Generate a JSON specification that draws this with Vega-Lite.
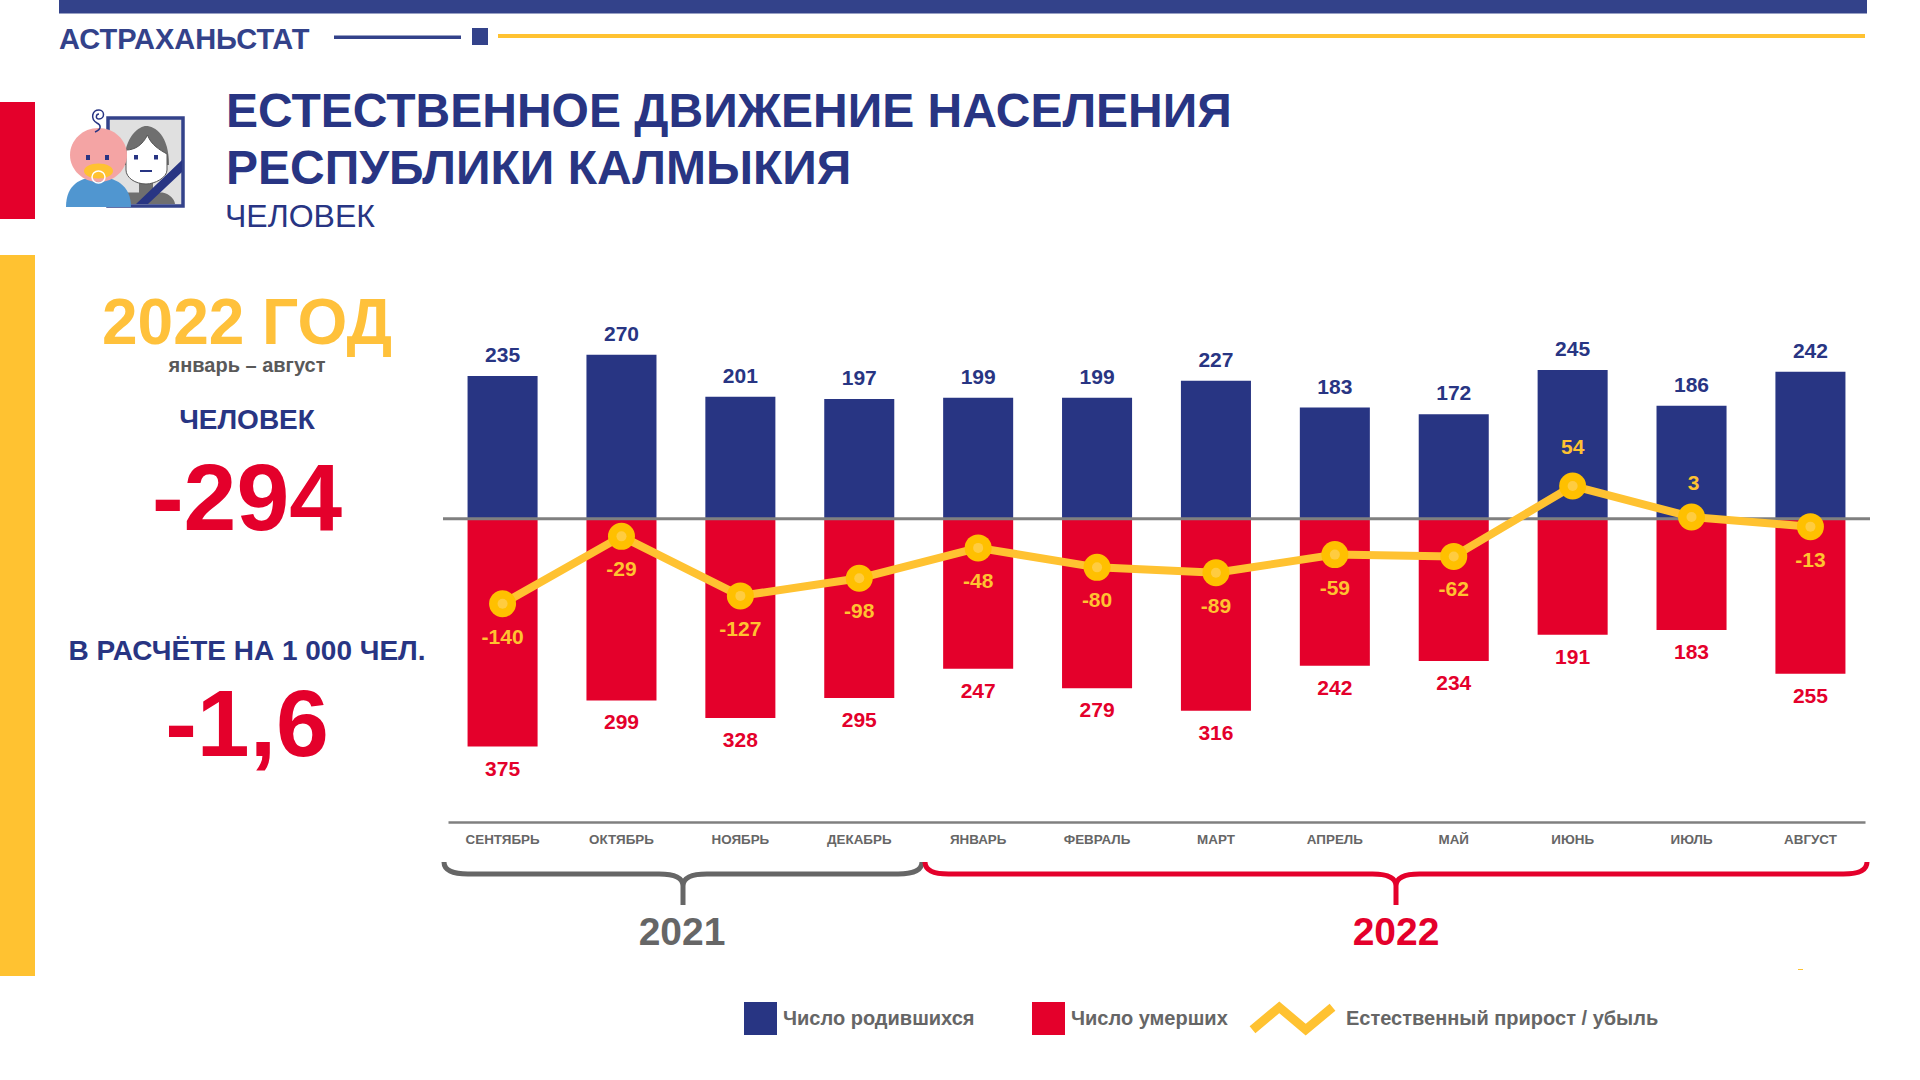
{
"$schema":"https://vega.github.io/schema/vega-lite/v6.json",
"width":1920,"height":1080,"padding":0,"autosize":{"type":"none"},"background":"white",
"config":{"font":"Liberation Sans","view":{"stroke":null}},
"datasets":{"chart":[
{"month":"СЕНТЯБРЬ","series":"Число родившихся","value":235},{"month":"ОКТЯБРЬ","series":"Число родившихся","value":270},{"month":"НОЯБРЬ","series":"Число родившихся","value":201},{"month":"ДЕКАБРЬ","series":"Число родившихся","value":197},{"month":"ЯНВАРЬ","series":"Число родившихся","value":199},{"month":"ФЕВРАЛЬ","series":"Число родившихся","value":199},{"month":"МАРТ","series":"Число родившихся","value":227},{"month":"АПРЕЛЬ","series":"Число родившихся","value":183},{"month":"МАЙ","series":"Число родившихся","value":172},{"month":"ИЮНЬ","series":"Число родившихся","value":245},{"month":"ИЮЛЬ","series":"Число родившихся","value":186},{"month":"АВГУСТ","series":"Число родившихся","value":242},
{"month":"СЕНТЯБРЬ","series":"Число умерших","value":375},{"month":"ОКТЯБРЬ","series":"Число умерших","value":299},{"month":"НОЯБРЬ","series":"Число умерших","value":328},{"month":"ДЕКАБРЬ","series":"Число умерших","value":295},{"month":"ЯНВАРЬ","series":"Число умерших","value":247},{"month":"ФЕВРАЛЬ","series":"Число умерших","value":279},{"month":"МАРТ","series":"Число умерших","value":316},{"month":"АПРЕЛЬ","series":"Число умерших","value":242},{"month":"МАЙ","series":"Число умерших","value":234},{"month":"ИЮНЬ","series":"Число умерших","value":191},{"month":"ИЮЛЬ","series":"Число умерших","value":183},{"month":"АВГУСТ","series":"Число умерших","value":255},
{"month":"СЕНТЯБРЬ","series":"Естественный прирост / убыль","value":-140},{"month":"ОКТЯБРЬ","series":"Естественный прирост / убыль","value":-29},{"month":"НОЯБРЬ","series":"Естественный прирост / убыль","value":-127},{"month":"ДЕКАБРЬ","series":"Естественный прирост / убыль","value":-98},{"month":"ЯНВАРЬ","series":"Естественный прирост / убыль","value":-48},{"month":"ФЕВРАЛЬ","series":"Естественный прирост / убыль","value":-80},{"month":"МАРТ","series":"Естественный прирост / убыль","value":-89},{"month":"АПРЕЛЬ","series":"Естественный прирост / убыль","value":-59},{"month":"МАЙ","series":"Естественный прирост / убыль","value":-62},{"month":"ИЮНЬ","series":"Естественный прирост / убыль","value":54},{"month":"ИЮЛЬ","series":"Естественный прирост / убыль","value":3},{"month":"АВГУСТ","series":"Естественный прирост / убыль","value":-13}
]},
"resolve":{"scale":{"y":"independent"}},
"layer":[
{"data":{"name":"chart"},"transform":[{"filter":"datum.series==='Число родившихся'"}],
 "mark":{"type":"bar"},
 "encoding":{
  "x":{"field":"month","type":"nominal","sort":null,"title":null,
   "scale":{"type":"band","range":[448,1865],"paddingInner":0.411,"paddingOuter":0.1645},
   "axis":{"orient":"bottom","offset":-258,"domainColor":"#808080","domainWidth":2.5,"ticks":false,"labelAngle":0,"labelFontSize":13.4,"labelFontWeight":"bold","labelColor":"#666666","labelPadding":10,"grid":false,"labelLimit":200}},
  "y":{"field":"value","type":"quantitative","axis":null,"scale":{"domain":[-500,300],"range":[822.5,336.5],"nice":false,"zero":false}},
  "color":{"field":"series","type":"nominal","scale":{"domain":["Число родившихся","Число умерших"],"range":["#283583","#E4002B"]},
   "legend":{"title":null,"orient":"none","legendX":744,"legendY":1002,"direction":"horizontal","columns":2,"columnPadding":57,"symbolType":"square","symbolSize":1089,"symbolStrokeWidth":0,"labelFontSize":20,"labelFontWeight":"bold","labelColor":"#666666","labelOffset":6,"padding":0,"labelLimit":300}}
 }},
{"data":{"name":"chart"},"transform":[{"filter":"datum.series==='Число умерших'"}],
 "mark":{"type":"bar"},
 "encoding":{
  "x":{"field":"month","type":"nominal","sort":null,"title":null},
  "y":{"field":"value","type":"quantitative","axis":null,"scale":{"domain":[500,-300],"range":[822.5,336.5],"nice":false,"zero":false}},
  "color":{"field":"series","type":"nominal"}
 }},
{"data":{"name":"chart"},"transform":[{"filter":"datum.series==='Число родившихся'"}],
 "mark":{"type":"text","fontSize":21,"fontWeight":"bold","color":"#283583","baseline":"middle","align":"center","dy":-20},
 "encoding":{
  "x":{"field":"month","type":"nominal","sort":null,"title":null},
  "y":{"field":"value","type":"quantitative","axis":null,"scale":{"domain":[-500,300],"range":[822.5,336.5],"nice":false,"zero":false}},
  "text":{"field":"value","type":"quantitative"}
 }},
{"data":{"name":"chart"},"transform":[{"filter":"datum.series==='Число умерших'"}],
 "mark":{"type":"text","fontSize":21,"fontWeight":"bold","color":"#E4002B","baseline":"middle","align":"center","dy":23},
 "encoding":{
  "x":{"field":"month","type":"nominal","sort":null,"title":null},
  "y":{"field":"value","type":"quantitative","axis":null,"scale":{"domain":[500,-300],"range":[822.5,336.5],"nice":false,"zero":false}},
  "text":{"field":"value","type":"quantitative"}
 }},
{"data":{"values":[{"level":0}]},
 "mark":{"type":"rule","x":443,"x2":1870,"color":"#808080","strokeWidth":3},
 "encoding":{"y":{"field":"level","type":"quantitative","axis":null,"scale":{"domain":[-500,300],"range":[822.5,336.5],"nice":false,"zero":false}}}},
{"data":{"name":"chart"},"transform":[{"filter":"datum.series==='Естественный прирост / убыль'"}],
 "mark":{"type":"line","strokeWidth":8,"strokeJoin":"round"},
 "encoding":{
  "x":{"field":"month","type":"nominal","sort":null,"title":null},
  "y":{"field":"value","type":"quantitative","axis":null,"scale":{"domain":[-500,300],"range":[822.5,336.5],"nice":false,"zero":false}},
  "stroke":{"field":"series","type":"nominal","scale":{"domain":["Естественный прирост / убыль"],"range":["#FFC231"]},
   "legend":{"title":null,"orient":"none","legendX":1248,"legendY":974,"symbolType":"M-1,0.28L-0.33,-0.28L0.33,0.28L1,-0.28","symbolSize":6400,"symbolStrokeWidth":9,"labelFontSize":20,"labelFontWeight":"bold","labelColor":"#666666","labelOffset":9,"padding":0,"labelLimit":400}}
 }},
{"data":{"name":"chart"},"transform":[{"filter":"datum.series==='Естественный прирост / убыль'"}],
 "mark":{"type":"point","filled":true,"size":729,"color":"#FFC000","opacity":1},
 "encoding":{
  "x":{"field":"month","type":"nominal","sort":null,"title":null},
  "y":{"field":"value","type":"quantitative","axis":null,"scale":{"domain":[-500,300],"range":[822.5,336.5],"nice":false,"zero":false}}
 }},
{"data":{"name":"chart"},"transform":[{"filter":"datum.series==='Естественный прирост / убыль'"}],
 "mark":{"type":"point","filled":true,"size":100,"color":"#FFCC40","opacity":1},
 "encoding":{
  "x":{"field":"month","type":"nominal","sort":null,"title":null},
  "y":{"field":"value","type":"quantitative","axis":null,"scale":{"domain":[-500,300],"range":[822.5,336.5],"nice":false,"zero":false}}
 }},
{"data":{"name":"chart"},"transform":[{"filter":"datum.series==='Естественный прирост / убыль' && datum.value<0"}],
 "mark":{"type":"text","fontSize":21,"fontWeight":"bold","color":"#FFC231","baseline":"middle","align":"center","dy":34},
 "encoding":{
  "x":{"field":"month","type":"nominal","sort":null,"title":null},
  "y":{"field":"value","type":"quantitative","axis":null,"scale":{"domain":[-500,300],"range":[822.5,336.5],"nice":false,"zero":false}},
  "text":{"field":"value","type":"nominal"}
 }},
{"data":{"name":"chart"},"transform":[{"filter":"datum.series==='Естественный прирост / убыль' && datum.value>10"}],
 "mark":{"type":"text","fontSize":21,"fontWeight":"bold","color":"#FFC231","baseline":"middle","align":"center","dy":-38},
 "encoding":{
  "x":{"field":"month","type":"nominal","sort":null,"title":null},
  "y":{"field":"value","type":"quantitative","axis":null,"scale":{"domain":[-500,300],"range":[822.5,336.5],"nice":false,"zero":false}},
  "text":{"field":"value","type":"nominal"}
 }},
{"data":{"name":"chart"},"transform":[{"filter":"datum.series==='Естественный прирост / убыль' && datum.value>0 && datum.value<10"}],
 "mark":{"type":"text","fontSize":21,"fontWeight":"bold","color":"#FFC231","baseline":"middle","align":"center","dy":-33,"dx":2},
 "encoding":{
  "x":{"field":"month","type":"nominal","sort":null,"title":null},
  "y":{"field":"value","type":"quantitative","axis":null,"scale":{"domain":[-500,300],"range":[822.5,336.5],"nice":false,"zero":false}},
  "text":{"field":"value","type":"nominal"}
 }},
{"data":{"values":[{}]},"mark":{"type":"rect","x":59,"x2":1867,"y":0,"y2":13.5,"color":"#33428A"},"encoding":{}},
{"data":{"values":[{}]},"mark":{"type":"rect","x":334,"x2":461,"y":35.5,"y2":39,"color":"#33428A"},"encoding":{}},
{"data":{"values":[{}]},"mark":{"type":"rect","x":472,"x2":488,"y":28,"y2":45,"color":"#33428A"},"encoding":{}},
{"data":{"values":[{}]},"mark":{"type":"rect","x":498,"x2":1865,"y":34,"y2":38,"color":"#FFC231"},"encoding":{}},
{"data":{"values":[{}]},"mark":{"type":"rect","x":0,"x2":35,"y":102,"y2":219,"color":"#E4002B"},"encoding":{}},
{"data":{"values":[{}]},"mark":{"type":"rect","x":0,"x2":35,"y":255,"y2":976,"color":"#FFC231"},"encoding":{}},
{"data":{"values":[{}]},"mark":{"type":"rect","x":1798,"x2":1803,"y":969,"y2":970,"color":"#FFC231"},"encoding":{}},
{"data":{"values":[{}]},"mark":{"type":"text","text":"АСТРАХАНЬСТАТ","x":59,"y":40,"align":"left","baseline":"middle","fontSize":29,"fontWeight":"bold","color":"#33428A"},"encoding":{}},
{"data":{"values":[{}]},"mark":{"type":"text","text":"ЕСТЕСТВЕННОЕ ДВИЖЕНИЕ НАСЕЛЕНИЯ","x":226,"y":113,"align":"left","baseline":"middle","fontSize":48,"fontWeight":"bold","color":"#283583"},"encoding":{}},
{"data":{"values":[{}]},"mark":{"type":"text","text":"РЕСПУБЛИКИ КАЛМЫКИЯ","x":226,"y":170,"align":"left","baseline":"middle","fontSize":48,"fontWeight":"bold","color":"#283583"},"encoding":{}},
{"data":{"values":[{}]},"mark":{"type":"text","text":"ЧЕЛОВЕК","x":225,"y":217,"align":"left","baseline":"middle","fontSize":32,"color":"#283583"},"encoding":{}},
{"data":{"values":[{}]},"mark":{"type":"text","text":"2022 ГОД","x":247,"y":325,"align":"center","baseline":"middle","fontSize":64,"fontWeight":"bold","color":"#FFC13B"},"encoding":{}},
{"data":{"values":[{}]},"mark":{"type":"text","text":"январь – август","x":247,"y":366,"align":"center","baseline":"middle","fontSize":20,"fontWeight":"bold","color":"#595959"},"encoding":{}},
{"data":{"values":[{}]},"mark":{"type":"text","text":"ЧЕЛОВЕК","x":247,"y":421,"align":"center","baseline":"middle","fontSize":28,"fontWeight":"bold","color":"#283583"},"encoding":{}},
{"data":{"values":[{}]},"mark":{"type":"text","text":"-294","x":247,"y":501,"align":"center","baseline":"middle","fontSize":95,"fontWeight":"bold","color":"#E4002B"},"encoding":{}},
{"data":{"values":[{}]},"mark":{"type":"text","text":"В РАСЧЁТЕ НА 1 000 ЧЕЛ.","x":247,"y":652,"align":"center","baseline":"middle","fontSize":28,"fontWeight":"bold","color":"#283583"},"encoding":{}},
{"data":{"values":[{}]},"mark":{"type":"text","text":"-1,6","x":247,"y":727,"align":"center","baseline":"middle","fontSize":95,"fontWeight":"bold","color":"#E4002B"},"encoding":{}},
{"data":{"values":[{}]},"mark":{"type":"text","text":"2021","x":682,"y":933,"align":"center","baseline":"middle","fontSize":39,"fontWeight":"bold","color":"#666666"},"encoding":{}},
{"data":{"values":[{}]},"mark":{"type":"text","text":"2022","x":1396,"y":933,"align":"center","baseline":"middle","fontSize":39,"fontWeight":"bold","color":"#E4002B"},"encoding":{}},
{"data":{"values":[{}]},"mark":{"type":"point","x":683,"y":874,"size":228484,"opacity":1,"filled":false,"stroke":"#666666","strokeWidth":5,"shape":"M-1,-0.05Q-1,0 -0.9,0L-0.1,0Q0,0 0,0.05L0,0.13M0,0.05Q0,0 0.1,0L0.9,0Q1,0 1,-0.05"},"encoding":{}},
{"data":{"values":[{}]},"mark":{"type":"point","x":1396,"y":874,"size":887364,"opacity":1,"filled":false,"stroke":"#E4002B","strokeWidth":5,"shape":"M-1,-0.0255Q-1,0 -0.95,0L-0.05,0Q0,0 0,0.0255L0,0.066M0,0.0255Q0,0 0.05,0L0.95,0Q1,0 1,-0.0255"},"encoding":{}},
{"data":{"values":[{}]},"mark":{"type":"rect","x":108,"x2":183,"y":118,"y2":206,"fill":"#E0E0E0","stroke":"#33428A","strokeWidth":3.5},"encoding":{}},
{"data":{"values":[{}]},"mark":{"type":"point","x":100,"y":160,"size":10000,"opacity":1,"filled":true,"color":"#6F6F6F","shape":"M0.48,0.1C0.48,-0.5 0.8,-0.68 0.92,-0.68C1.1,-0.68 1.38,-0.5 1.38,0.1Z"},"encoding":{}},
{"data":{"values":[{}]},"mark":{"type":"point","x":100,"y":160,"size":10000,"opacity":1,"filled":true,"color":"#6F6F6F","shape":"M0.78,0.4L1.06,0.4L1.06,0.65L1.25,0.65C1.4,0.68 1.5,0.8 1.5,0.88L0.5,0.88L0.5,0.65L0.78,0.65Z"},"encoding":{}},
{"data":{"values":[{}]},"mark":{"type":"point","x":100,"y":160,"size":10000,"opacity":1,"filled":true,"fill":"#FFFFFF","stroke":"#555555","strokeWidth":1,"shape":"M0.52,-0.2C0.7,-0.2 0.85,-0.3 0.95,-0.5C1.02,-0.3 1.2,-0.2 1.34,-0.12L1.34,0.2C1.34,0.35 1.1,0.48 0.92,0.48C0.7,0.48 0.52,0.35 0.52,0.2Z"},"encoding":{}},
{"data":{"values":[{}]},"mark":{"type":"point","x":100,"y":160,"size":10000,"opacity":1,"filled":true,"color":"#283583","shape":"M0.68,-0.1h0.08v0.09h-0.08ZM1.08,-0.1h0.08v0.09h-0.08ZM0.8,0.2h0.24v0.04h-0.24ZM1.64,0L1.64,0.24L0.96,0.88L0.72,0.88Z"},"encoding":{}},
{"data":{"values":[{}]},"mark":{"type":"point","x":100,"y":160,"size":10000,"opacity":1,"filled":true,"color":"#5096D0","shape":"M-0.68,0.94C-0.68,0.5 -0.4,0.34 -0.04,0.34C0.3,0.34 0.62,0.5 0.62,0.94Z"},"encoding":{}},
{"data":{"values":[{}]},"mark":{"type":"point","x":100,"y":160,"size":10000,"opacity":1,"filled":true,"color":"#F4A4A4","shape":"M-0.6,-0.1A0.57,0.54 0 1 1 0.54,-0.1A0.57,0.54 0 1 1 -0.6,-0.1Z"},"encoding":{}},
{"data":{"values":[{}]},"mark":{"type":"point","x":100,"y":160,"size":10000,"opacity":1,"filled":true,"color":"#FFC231","shape":"M-0.32,0.22A0.29,0.15 0 1 1 0.26,0.22A0.29,0.15 0 1 1 -0.32,0.22Z"},"encoding":{}},
{"data":{"values":[{}]},"mark":{"type":"point","x":100,"y":160,"size":10000,"opacity":1,"filled":true,"color":"#283583","shape":"M-0.28,-0.1h0.08v0.1h-0.08ZM0.1,-0.1h0.08v0.1h-0.08Z"},"encoding":{}},
{"data":{"values":[{}]},"mark":{"type":"point","x":100,"y":160,"size":10000,"opacity":1,"filled":false,"stroke":"#FFFFFF","strokeWidth":1.5,"shape":"M-0.16,0.34A0.13,0.12 0 1 1 0.1,0.34A0.13,0.12 0 1 1 -0.16,0.34Z"},"encoding":{}},
{"data":{"values":[{}]},"mark":{"type":"point","x":100,"y":160,"size":10000,"opacity":1,"filled":false,"stroke":"#283583","strokeWidth":1.5,"shape":"M-0.1,-0.56C0.04,-0.62 0.02,-0.7 -0.06,-0.74C-0.2,-0.82 -0.16,-1 -0.02,-1C0.1,-1 0.1,-0.82 -0.02,-0.82C-0.1,-0.82 -0.08,-0.92 -0.02,-0.92"},"encoding":{}}
]
}
